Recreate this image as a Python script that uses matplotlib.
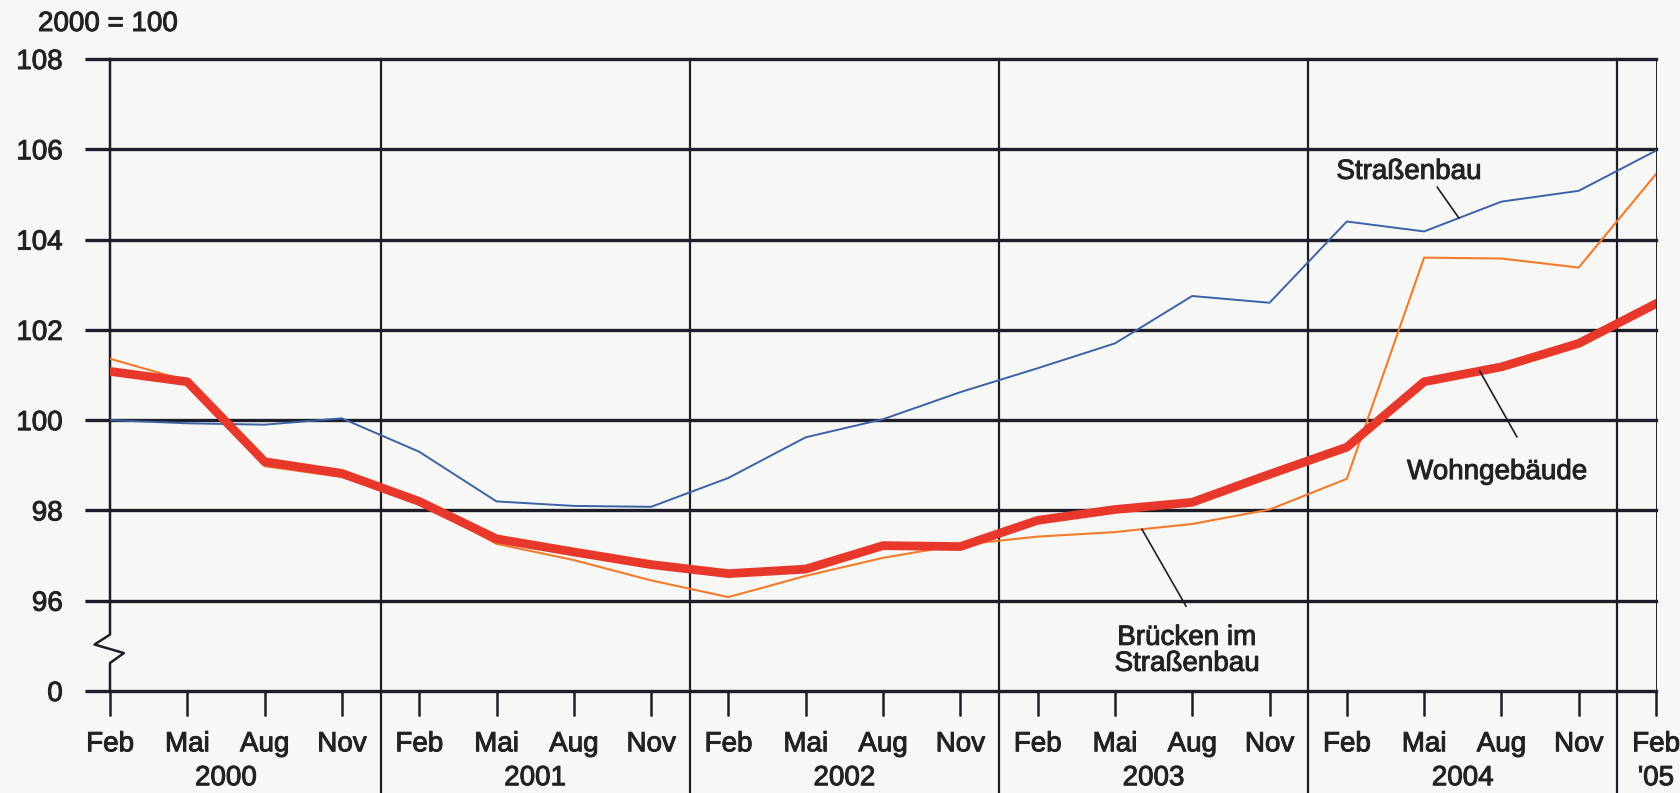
import numpy as np
import matplotlib
matplotlib.use("Agg")
import matplotlib.pyplot as plt
import matplotlib.patheffects as pe

# quarterly index values, Feb 2000 .. Feb 2005 (2000 = 100)
months = ['Feb', 'Mai', 'Aug', 'Nov'] * 5 + ['Feb']
years = ['2000', '2001', '2002', '2003', '2004', "'05"]
year_pos = [1.5, 5.5, 9.5, 13.5, 17.5, 20]
year_breaks = [3.5, 7.5, 11.5, 15.5, 19.5]

strassenbau = [100.0, 99.93, 99.9, 100.04, 99.3, 98.2, 98.1, 98.08, 98.72, 99.62,
               100.02, 100.62, 101.15, 101.7, 102.75, 102.6, 104.4, 104.18, 104.84,
               105.08, 105.97]
bruecken = [101.36, 100.87, 98.98, 98.74, 98.18, 97.26, 96.9, 96.45, 96.08, 96.55,
            96.95, 97.24, 97.42, 97.52, 97.7, 98.02, 98.7, 103.6, 103.58, 103.38,
            105.45]
wohngebaeude = [101.08, 100.85, 99.08, 98.82, 98.2, 97.37, 97.08, 96.8, 96.6, 96.7,
                97.22, 97.2, 97.78, 98.02, 98.18, 98.8, 99.4, 100.85, 101.18, 101.7,
                102.58]

# the axis is broken below 96; "0" sits one grid step lower
ytick_pos = [94, 96, 98, 100, 102, 104, 106, 108]
ytick_lab = ['0', '96', '98', '100', '102', '104', '106', '108']

dark = '#1e1e2a'
txt = '#222222'
plt.rcParams['font.family'] = ['Liberation Sans', 'DejaVu Sans']
plt.rcParams['font.size'] = 20
plt.rcParams['text.color'] = txt
# scanned print looks a little heavier than the plain font
plt.rcParams['path.effects'] = [pe.withStroke(linewidth=0.7, foreground=txt)]

fig = plt.figure(figsize=(16.81, 7.93), dpi=100)
fig.patch.set_facecolor('#f7f7f5')
ax = fig.add_axes([110 / 1681, 1 - 691 / 793, 1546 / 1681, 632 / 793])
ax.set_facecolor('#f7f7f5')

x = np.arange(len(months))
ax.set_xlim(0, 20)
ax.set_ylim(94, 108)
for s in ax.spines.values():
    s.set_visible(False)

ax.set_yticks(ytick_pos)
ax.set_yticklabels(ytick_lab, color=txt)
ax.tick_params(axis='y', length=18, width=2.4, color=dark, pad=16)
ax.yaxis.grid(True, color=dark, lw=2.4, path_effects=[])
for gl in ax.get_ygridlines():
    gl.set_clip_on(False)
ax.set_axisbelow(True)

ax.set_xticks(x)
ax.set_xticklabels(months, color=txt)
ax.tick_params(axis='x', length=18, width=1.8, color=dark, pad=11)

for b in year_breaks:
    ax.axvline(b, ymin=-0.165, ymax=1, color=dark, lw=1.6, clip_on=False, path_effects=[])
for yp, yl in zip(year_pos, years):
    ax.text(yp, -0.138, yl, transform=ax.get_xaxis_transform(), ha='center', va='center')

# left axis with break mark
ax.plot([0, 0, -0.2, 0.18, 0, 0], [108, 95.25, 95.03, 94.84, 94.62, 94],
        color=dark, lw=1.8, clip_on=False, path_effects=[])

ax.plot(x, strassenbau, color='#3b62a6', lw=1.4, zorder=3, path_effects=[])
ax.plot(x, bruecken, color='#f47a2c', lw=1.5, zorder=3, path_effects=[])
ax.plot(x, wohngebaeude, color='#e8372b', lw=6.3, zorder=4, solid_joinstyle='round',
        path_effects=[])

# labels with leader lines
ax.text(16.8, 105.5, 'Straßenbau', ha='center', va='center')
ax.plot([17.17, 17.45], [105.16, np.interp(17.45, x, strassenbau)], color=dark, lw=1.2,
        zorder=5, path_effects=[])

ax.text(17.94, 98.85, 'Wohngebäude', ha='center', va='center')
ax.plot([18.2, 17.72], [99.63, np.interp(17.72, x, wohngebaeude)], color=dark, lw=1.2,
        zorder=5, path_effects=[])

ax.text(13.93, 94.89, 'Brücken im\nStraßenbau', ha='center', va='center', linespacing=1.0)
ax.plot([13.92, 13.35], [95.88, np.interp(13.35, x, bruecken)], color=dark, lw=1.2,
        zorder=5, path_effects=[])

fig.text(38 / 1681, 1 - 24 / 793, '2000 = 100', ha='left', va='center')

fig.savefig('out.png', dpi=100, facecolor=fig.get_facecolor())
